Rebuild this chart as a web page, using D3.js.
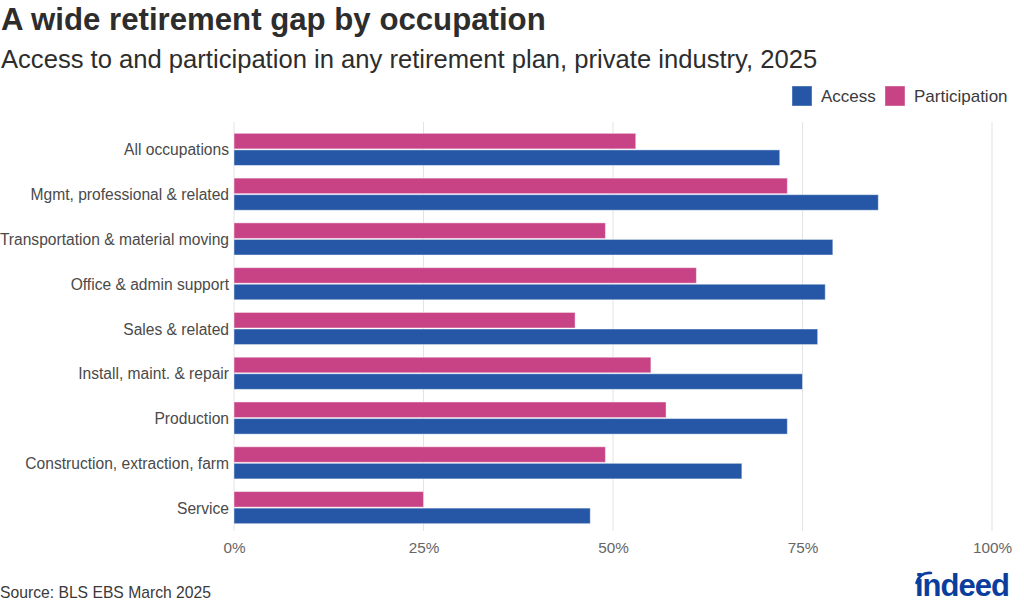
<!DOCTYPE html>
<html><head><meta charset="utf-8">
<script src="https://cdn.jsdelivr.net/npm/d3@7"></script>
<style>
body{margin:0;background:#fff;}
svg{display:block;font-family:"Liberation Sans",Arial,Helvetica,sans-serif;}
</style></head>
<body>
<svg id="c" width="1024" height="614"></svg>
<script>
const categories = ["All occupations","Mgmt, professional & related","Transportation & material moving","Office & admin support","Sales & related","Install, maint. & repair","Production","Construction, extraction, farm","Service"];
const access = [72,85,79,78,77,75,73,67,47];
const participation = [53,73,49,61,45,55,57,49,25];
const tickValues = [0,25,50,75,100];
const tickLabels = ["0%","25%","50%","75%","100%"];
const seriesNames = ["Access","Participation"];
const colors = {Access:"#2557A6", Participation:"#C84385"};

const svg = d3.select("#c");
const x = d3.scaleLinear().domain([0,100]).range([234,992]);
const y = d3.scaleBand().domain(categories).range([127.5,530.5]).paddingInner(0.26).paddingOuter(0.13);
const sub = d3.scaleBand().domain(["Participation","Access"]).range([0,y.bandwidth()]);

svg.append("text").attr("x",1).attr("y",30).attr("font-size",31.2).attr("font-weight","bold").attr("fill","#2d2d2d").text("A wide retirement gap by occupation");
svg.append("text").attr("x",1).attr("y",68).attr("font-size",25.6).attr("fill","#2d2d2d").text("Access to and participation in any retirement plan, private industry, 2025");

// gridlines
svg.append("g").selectAll("line").data(tickValues).join("line")
  .attr("x1",d=>x(d)).attr("x2",d=>x(d)).attr("y1",122).attr("y2",531)
  .attr("stroke","#e3e3e3").attr("stroke-width",1);

const rows = categories.map((c,i)=>({c, Access:access[i], Participation:participation[i]}));
const g = svg.append("g");
rows.forEach(r=>{
  ["Participation","Access"].forEach(s=>{
    g.append("rect").attr("x",x(0)).attr("y",y(r.c)+sub(s))
      .attr("width",x(r[s])-x(0)).attr("height",sub.bandwidth()-1)
      .attr("fill",colors[s]).attr("stroke","#ffffff").attr("stroke-opacity",0.45).attr("stroke-width",1);
  });
});

// category labels
svg.append("g").selectAll("text").data(categories).join("text")
  .attr("x",229).attr("y",d=>y(d)+y.bandwidth()/2+5.5).attr("text-anchor","end")
  .attr("font-size",15.6).attr("fill","#4a4a4a").text(d=>d);

// x axis
const xAxis = d3.axisBottom(x).tickValues(tickValues).tickFormat((d,i)=>tickLabels[i]).tickSize(0).tickPadding(0);
const ax = svg.append("g").attr("transform","translate(0,553)").call(xAxis);
ax.select(".domain").remove();
ax.selectAll("text").attr("font-size",15.3).attr("fill","#666").attr("dy",0).attr("font-family","Liberation Sans, Arial, sans-serif");

// legend
const leg = svg.append("g");
const legPos = [{s:"Access",x:792},{s:"Participation",x:885}];
legPos.forEach(l=>{
  leg.append("rect").attr("x",l.x).attr("y",86).attr("width",20).attr("height",20).attr("fill",colors[l.s]).attr("stroke","#fff").attr("stroke-opacity",0.4);
  leg.append("text").attr("x",l.x+29).attr("y",102).attr("font-size",17).attr("fill","#3a3a3a").text(l.s);
});

// source
svg.append("text").attr("x",0).attr("y",598).attr("font-size",15.7).attr("fill","#3a3a3a").text("Source: BLS EBS March 2025");

// indeed logo
svg.append("text").attr("x",915).attr("y",596).attr("font-size",31).attr("font-weight","bold").attr("fill","#0B3E9C").attr("letter-spacing",-1).text("indeed");
svg.append("path").attr("d","M916.5,583 Q920,572 931,573").attr("fill","none").attr("stroke","#0B3E9C").attr("stroke-width",2.6).attr("stroke-linecap","round");
</script>
</body></html>
